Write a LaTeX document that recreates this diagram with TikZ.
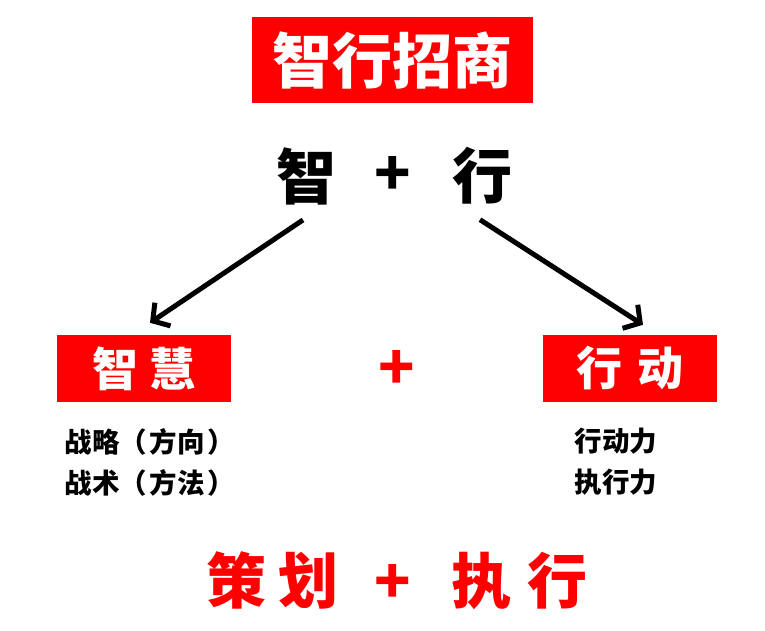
\documentclass[tikz,border=0pt]{standalone}
\usepackage{fontspec}
\newfontfamily\cjk{Noto Sans CJK SC}
\usetikzlibrary{arrows.meta}
\definecolor{zxred}{HTML}{FF0000}
\begin{document}
\begin{tikzpicture}[x=1pt,y=-1pt,
  big/.style={font=\cjk\bfseries\fontsize{60}{60}\selectfont,inner sep=0pt},
  redbox/.style={fill=zxred,text=white,inner sep=0pt,minimum width=174pt,minimum height=67pt,
    font=\cjk\bfseries\fontsize{46}{46}\selectfont},
  note/.style={font=\cjk\bfseries\fontsize{27.5}{41}\selectfont,align=left,inner sep=0pt},
  arr/.style={line width=5pt,-{Straight Barb[length=12pt,width=28pt]}}]
\useasboundingbox (0,0) rectangle (765,630);
% title
\node[fill=zxred,text=white,minimum width=281pt,minimum height=86pt,
  font=\cjk\bfseries\fontsize{60}{60}\selectfont,inner sep=0pt] (title) at (392.5,60) {智行招商};
% 智 + 行
\node[big] (zhi) at (306,176) {智};
\node[big] (plus) at (393,176) {+};
\node[big] (xing) at (482,176) {行};
% two boxes
\node[redbox] (zhihui) at (144,368.5) {智\hspace{12pt}慧};
\node[big,text=zxred] (plus2) at (397,370) {+};
\node[redbox] (xingdong) at (630,368.5) {行\hspace{16pt}动};
\draw[arr] ([shift={(-3,15)}]zhi.south) -- ([shift={(6,-12)}]zhihui.north);
\draw[arr] ([shift={(-2,15)}]xing.south) -- ([shift={(13,-10)}]xingdong.north);
% notes
\node[note] (left) at (150,462) {战略（\hspace{3pt}方向\hspace{3pt}）\\战术（\hspace{3pt}方法\hspace{3pt}）};
\node[note] (right) at (616,462) {行动力\\执行力};
% bottom line
\node[big,text=zxred] (bottom) at (397,581) {策\hspace{12pt}划\hspace{36pt}+\hspace{40pt}执\hspace{16pt}行};
\end{tikzpicture}
\end{document}
